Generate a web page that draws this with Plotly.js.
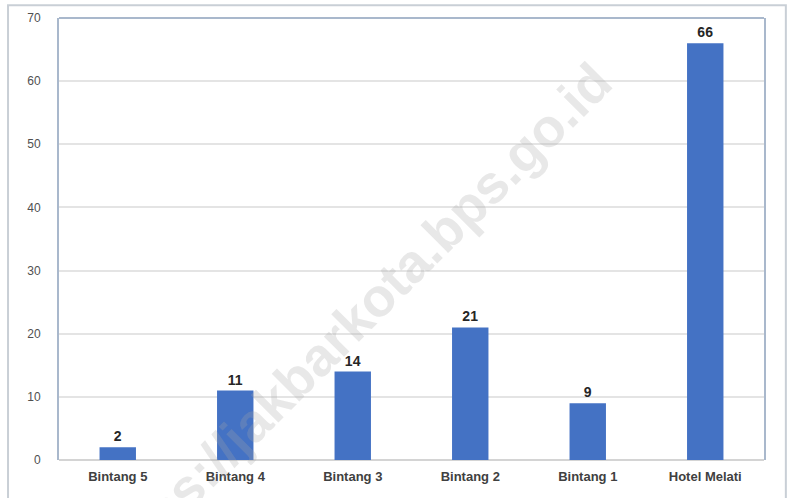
<!DOCTYPE html>
<html>
<head>
<meta charset="utf-8">
<script src="https://cdn.plot.ly/plotly-3.0.1.min.js"></script>
<style>html,body{margin:0;padding:0;background:#fff;}#chart{width:788px;height:498px;}</style>
</head>
<body>
<div id="chart"></div>
<script>
const categories = ["Bintang 5", "Bintang 4", "Bintang 3", "Bintang 2", "Bintang 1", "Hotel Melati"];
const values = [2, 11, 14, 21, 9, 66];
const yTicks = [0, 10, 20, 30, 40, 50, 60, 70];
const watermark = "https://jakbarkota.bps.go.id";

const trace = {
  type: "bar",
  x: categories,
  y: values,
  width: 0.31,
  marker: {color: "#4472C4"},
  text: values.map(String),
  textposition: "outside",
  cliponaxis: false,
  textfont: {family: "Liberation Sans, Arial, sans-serif", size: 14, color: "#262626", weight: "bold"},
  hoverinfo: "skip"
};

const layout = {
  width: 788,
  height: 498,
  margin: {l: 59, r: 24, t: 18, b: 38, pad: 0},
  paper_bgcolor: "#ffffff",
  plot_bgcolor: "#ffffff",
  showlegend: false,
  bargap: 0.69,
  xaxis: {
    type: "category",
    showgrid: false,
    showline: false,
    ticks: "outside",
    ticklen: 4,
    tickcolor: "rgba(0,0,0,0)",
    tickfont: {family: "Liberation Sans, Arial, sans-serif", size: 13, color: "#404040", weight: "bold"},
    fixedrange: true
  },
  yaxis: {
    range: [0, 70],
    tickvals: yTicks,
    ticktext: yTicks.map(String),
    showgrid: true,
    gridcolor: "#e4e4e4",
    gridwidth: 2,
    zeroline: true,
    zerolinecolor: "#d4d4d4",
    zerolinewidth: 2,
    showline: true,
    linecolor: "#a9b8cc",
    linewidth: 2,
    mirror: true,
    ticks: "outside",
    ticklen: 14,
    tickcolor: "rgba(0,0,0,0)",
    tickfont: {family: "Liberation Sans, Arial, sans-serif", size: 12, color: "#505050"},
    fixedrange: true
  },
  shapes: [{
    type: "rect", xref: "paper", yref: "paper",
    x0: -0.0723, x1: 1.031, y0: -0.12, y1: 1.029,
    line: {color: "#c9cfd6", width: 2},
    fillcolor: "rgba(0,0,0,0)",
    layer: "below"
  }, {
    type: "line", xref: "paper", yref: "paper",
    x0: 0, x1: 1, y0: 1, y1: 1,
    line: {color: "#a9b8cc", width: 2},
    layer: "above"
  }],
  annotations: [{
    text: watermark,
    xref: "paper", yref: "paper",
    x: (352 - 59) / 705, y: (460 - 322) / 442,
    xanchor: "center", yanchor: "middle",
    showarrow: false,
    textangle: -45,
    font: {family: "Liberation Sans, Arial, sans-serif", size: 54, color: "rgba(165,165,165,0.26)", weight: "bold"}
  }]
};

Plotly.newPlot("chart", [trace], layout, {staticPlot: true, displayModeBar: false});
</script>
</body>
</html>
